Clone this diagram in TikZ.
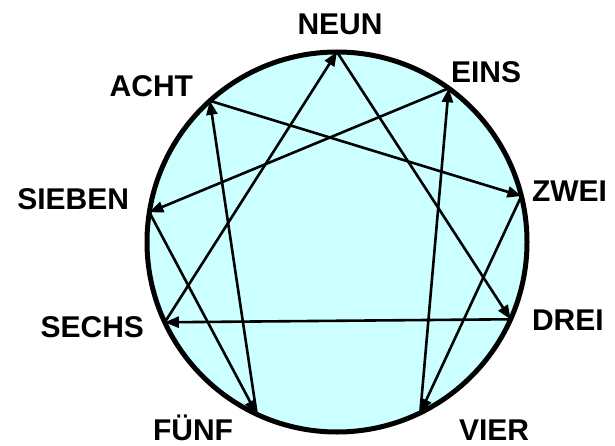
\documentclass[tikz,border=0pt]{standalone}
\usepackage{fontspec}
\setmainfont{Liberation Sans}
\usetikzlibrary{arrows.meta}
\definecolor{ringfill}{RGB}{204,255,255}
\begin{document}
\begin{tikzpicture}[x=1pt,y=-1pt,
  lab/.style={font=\fontsize{30}{32}\selectfont\bfseries, inner sep=0pt, outer sep=0pt},
  edge/.style={line width=2.6pt, -{Triangle[length=14pt,width=11pt]}}]
\useasboundingbox (0,0) rectangle (615,446);
\node[circle, draw, line width=5pt, fill=ringfill, minimum size=380pt, inner sep=0pt, outer sep=0pt] (ring) at (337,242) {};
\coordinate (p9) at (ring.90);
\coordinate (p1) at (ring.54.7);
\coordinate (p2) at (ring.14.8);
\coordinate (p3) at (ring.-24.6);
\coordinate (p4) at (ring.-64.2);
\coordinate (p5) at (ring.-115.8);
\coordinate (p6) at (ring.-155.3);
\coordinate (p7) at (ring.171);
\coordinate (p8) at (ring.132);
\node[lab, anchor=base] (neun) at (340,35) {NEUN};
\node[lab, anchor=base west] (eins) at (451,83) {EINS};
\node[lab, anchor=base west] (zwei) at (532,202) {ZWEI};
\node[lab, anchor=base west] (drei) at (532,330) {DREI};
\node[lab, anchor=base west] (vier) at (459,440) {VIER};
\node[lab, anchor=base east] (fuenf) at (233,440) {FÜNF};
\node[lab, anchor=base east] (sechs) at (144,337) {SECHS};
\node[lab, anchor=base east] (sieben) at (129,210) {SIEBEN};
\node[lab, anchor=base east] (acht) at (193,97) {ACHT};
\draw[edge] (p6) -- (p9);
\draw[edge] (p9) -- (p3);
\draw[edge] (p3) -- (p6);
\draw[edge] (p4) -- (p1);
\draw[edge] (p1) -- (p7);
\draw[edge] (p7) -- (p5);
\draw[edge] (p5) -- (p8);
\draw[edge] (p8) -- (p2);
\draw[edge] (p2) -- (p4);
\end{tikzpicture}
\end{document}
